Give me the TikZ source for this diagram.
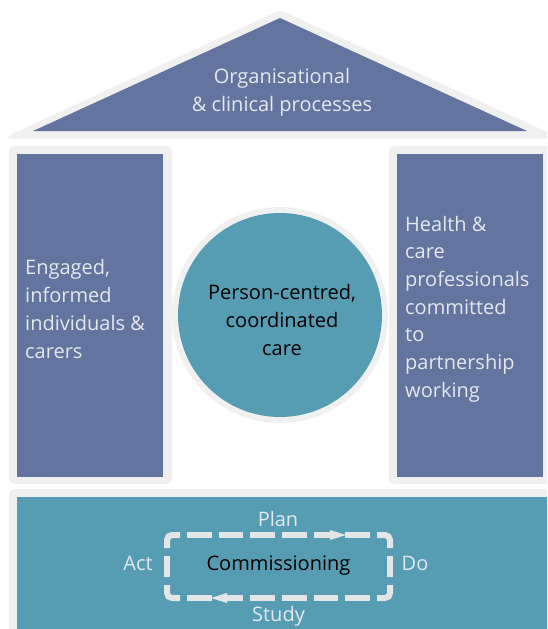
\documentclass[tikz,border=0pt]{standalone}
\usepackage{fontspec}
\setmainfont{Open Sans}
\definecolor{frame}{HTML}{F0F0F0}
\definecolor{slate}{HTML}{63759E}
\definecolor{tealc}{HTML}{569DB3}
\definecolor{lighttxt}{HTML}{E4E7EF}
\definecolor{dashc}{HTML}{E3E5E7}
\begin{document}
\begin{tikzpicture}[x=1pt,y=-1pt,
  framefill/.style={fill=frame},
  bluefill/.style={fill=slate},
  tealfill/.style={fill=tealc},
  txt/.style={inner sep=0pt,font=\fontsize{20pt}{27.7pt}\selectfont},
  lighttext/.style={txt,text=lighttxt},
  darktext/.style={txt,text=black},
  dl/.style={draw=dashc,line width=6pt,line cap=butt},
  arrowtip/.style={fill=dashc}]
\useasboundingbox (0,0) rectangle (547,629);
\clip (0,0) rectangle (547,629);
% roof
\fill[framefill,rounded corners=4pt] (280,10) -- (556,136) -- (556,139) -- (8,139) -- (8,136) -- cycle;
\fill[bluefill] (33,131) -- (280,18) -- (527,131) -- cycle;
\node[lighttext,align=center] (roof) at (282,92) {Organisational\\\& clinical processes};
% left column
\fill[framefill,rounded corners=5pt] (9,146) rectangle (172,484);
\fill[bluefill] (17,154) rectangle (163,477);
\node[lighttext,align=left,anchor=west] (left) at (25,309) {Engaged,\\informed\\individuals \&\\carers};
% right column
\fill[framefill,rounded corners=5pt] (389,146) rectangle (560,484);
\fill[bluefill] (397,154) rectangle (543,477);
\node[lighttext,align=left,anchor=west] (right) at (405,309) {Health \&\\care\\professionals\\committed\\to\\partnership\\working};
% circle
\fill[framefill] (280,315) circle (108);
\fill[tealfill] (280,315) circle (102);
\node[darktext,align=center] (centre) at (282,320) {Person-centred,\\coordinated\\care};
% bottom band
\fill[framefill,rounded corners=5pt] (9,489) rectangle (560,660);
\fill[tealfill] (17,497) rectangle (560,660);
% dashed cycle: corners
\draw[dl,rounded corners=5pt] (180,535) -- (167,535) -- (167,548);
\draw[dl,rounded corners=5pt] (377,535) -- (390,535) -- (390,548);
\draw[dl,rounded corners=5pt] (180,598) -- (167,598) -- (167,585);
\draw[dl,rounded corners=5pt] (377,598) -- (390,598) -- (390,585);
% dashed cycle: sides
\draw[dl,dash pattern=on 24.67pt off 7pt] (187,535) -- (370,535);
\draw[dl,dash pattern=on 24.67pt off 7pt] (187,598) -- (370,598);
\draw[dl,dash pattern=on 21pt off 8pt] (167,556) -- (167,577);
\draw[dl,dash pattern=on 21pt off 8pt] (390,556) -- (390,577);
% arrow tips
\fill[arrowtip] (330,530) -- (346,535) -- (330,540) -- cycle;
\fill[arrowtip] (227,593) -- (211,598) -- (227,603) -- cycle;
% labels
\node[darktext,anchor=base] (comm) at (278.5,570.5) {Commissioning};
\node[lighttext,anchor=base] (plan) at (278,526.5) {Plan};
\node[lighttext,anchor=base] (act) at (138,570.5) {Act};
\node[lighttext,anchor=base] (do) at (415,570.5) {Do};
\node[lighttext,anchor=base] (study) at (278.5,621.5) {Study};
\end{tikzpicture}
\end{document}
